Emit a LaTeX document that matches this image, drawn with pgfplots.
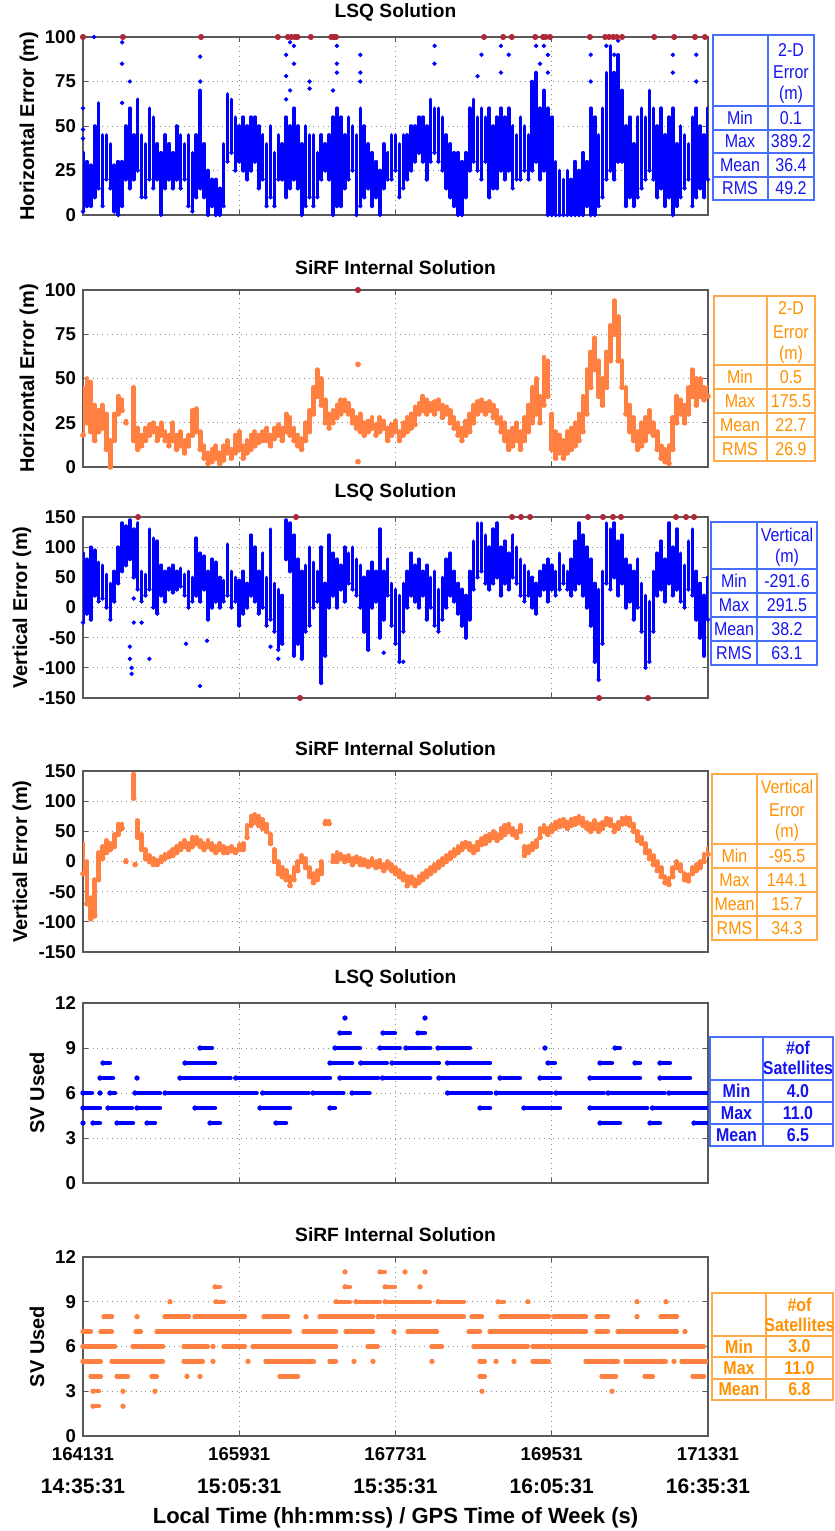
\documentclass[border=0pt]{standalone}
\usepackage{pgfplots}
\pgfplotsset{compat=1.18}
\usepackage{pgfplotstable}
\usepackage{graphicx}
\usepackage{fontspec}
\setmainfont{Liberation Sans}

\definecolor{lsq}{RGB}{0,0,255}
\definecolor{sirf}{RGB}{255,128,64}
\definecolor{clipped}{RGB}{175,40,55}
\definecolor{tbblue}{RGB}{70,110,255}
\definecolor{txblue}{RGB}{20,20,240}
\definecolor{tborange}{RGB}{255,170,70}
\definecolor{txorange}{RGB}{255,145,0}

% t = seconds since 164131 (14:35:31); lo/hi = spread of the dots at that time
\pgfplotstableread[row sep=\\]{
t lo hi\\
0 2 35\\ 45 5 30\\ 90 5 28\\ 135 10 50\\ 180 15 63\\ 225 5 45\\ 270 20 45\\ 315 15 40\\ 360 2 28\\ 405 0 30\\
450 5 30\\ 495 20 50\\ 540 15 60\\ 585 20 45\\ 630 25 65\\ 675 10 45\\ 720 10 40\\ 765 20 60\\ 810 15 55\\ 855 20 40\\
900 0 35\\ 945 15 45\\ 990 20 40\\ 1035 15 35\\ 1080 20 50\\ 1125 15 45\\ 1170 20 40\\ 1215 5 45\\ 1260 2 35\\ 1305 10 45\\
1350 15 70\\ 1395 10 40\\ 1440 0 25\\ 1485 5 20\\ 1530 0 20\\ 1575 0 15\\ 1620 5 40\\ 1665 30 68\\ 1710 35 65\\ 1755 25 55\\
1800 30 50\\ 1845 25 55\\ 1890 20 50\\ 1935 25 55\\ 1980 30 55\\ 2025 15 50\\ 2070 20 45\\ 2115 5 40\\ 2160 10 50\\ 2205 5 35\\
2250 20 45\\ 2295 20 40\\ 2340 10 55\\ 2385 15 50\\ 2430 20 60\\ 2475 15 50\\ 2520 0 40\\ 2565 5 50\\ 2610 10 45\\ 2655 5 45\\
2700 10 35\\ 2745 20 45\\ 2790 25 40\\ 2835 20 45\\ 2880 0 55\\ 2925 5 60\\ 2970 5 55\\ 3015 15 45\\ 3060 20 55\\ 3105 25 50\\
3150 0 45\\ 3195 5 60\\ 3240 10 50\\ 3285 15 40\\ 3330 5 35\\ 3375 10 30\\ 3420 0 25\\ 3465 15 40\\ 3510 20 35\\ 3555 20 45\\
3600 25 45\\ 3645 10 40\\ 3690 15 45\\ 3735 20 45\\ 3780 25 50\\ 3825 30 50\\ 3870 35 55\\ 3915 30 55\\ 3960 20 50\\ 4005 30 65\\
4050 35 60\\ 4095 30 60\\ 4140 25 55\\ 4185 15 45\\ 4230 10 40\\ 4275 5 35\\ 4320 0 35\\ 4365 0 30\\ 4410 10 35\\ 4455 25 60\\
4500 30 65\\ 4545 25 55\\ 4590 20 60\\ 4635 30 55\\ 4680 10 60\\ 4725 15 50\\ 4770 15 55\\ 4815 25 60\\ 4860 20 55\\ 4905 25 60\\
4950 15 50\\ 4995 20 45\\ 5040 20 55\\ 5085 25 50\\ 5130 20 45\\ 5175 25 75\\ 5220 30 80\\ 5265 20 60\\ 5310 25 70\\ 5355 0 60\\
5400 0 55\\ 5445 0 30\\ 5490 0 25\\ 5535 0 20\\ 5580 0 25\\ 5625 0 20\\ 5670 0 30\\ 5715 0 25\\ 5760 0 35\\ 5805 5 30\\
5850 0 60\\ 5895 0 55\\ 5940 5 45\\ 5985 10 60\\ 6030 20 80\\ 6075 25 95\\ 6120 20 80\\ 6165 30 90\\ 6210 30 70\\ 6255 5 50\\
6300 10 55\\ 6345 5 40\\ 6390 10 55\\ 6435 15 60\\ 6480 20 55\\ 6525 25 70\\ 6570 20 60\\ 6615 10 50\\ 6660 15 60\\ 6705 5 45\\
6750 10 55\\ 6795 0 60\\ 6840 5 40\\ 6885 10 50\\ 6930 15 45\\ 6975 20 40\\ 7020 5 55\\ 7065 10 60\\ 7110 15 50\\ 7155 10 45\\
7200 20 60\\
}\lsqhor

\pgfplotstableread[row sep=\\]{
t lo hi\\
0 18 45\\ 45 25 50\\ 90 20 48\\ 135 15 35\\ 180 20 32\\ 225 22 35\\ 270 10 30\\ 315 0 15\\ 360 15 30\\ 405 30 40\\
450 32 38\\ 495 25 26\\ 585 15 45\\ 630 10 22\\ 675 12 18\\ 720 15 22\\ 765 18 24\\ 810 20 25\\ 855 15 22\\ 900 18 25\\
945 15 20\\ 990 12 18\\ 1035 15 25\\ 1080 10 18\\ 1125 12 20\\ 1170 8 15\\ 1215 12 18\\ 1260 18 32\\ 1305 20 33\\ 1350 10 20\\
1395 5 12\\ 1440 2 8\\ 1485 3 10\\ 1530 5 12\\ 1575 2 8\\ 1620 4 12\\ 1665 8 15\\ 1710 5 10\\ 1755 8 18\\ 1800 10 20\\
1845 5 12\\ 1890 8 15\\ 1935 10 18\\ 1980 12 20\\ 2025 14 18\\ 2070 15 20\\ 2115 15 22\\ 2160 12 18\\ 2205 16 22\\ 2250 18 24\\
2295 15 22\\ 2340 20 30\\ 2385 18 28\\ 2430 15 22\\ 2475 12 18\\ 2520 10 16\\ 2565 15 25\\ 2610 20 32\\ 2655 30 45\\ 2700 40 55\\
2745 35 50\\ 2790 25 38\\ 2835 22 30\\ 2880 25 32\\ 2925 28 35\\ 2970 30 38\\ 3015 32 38\\ 3060 30 36\\ 3105 25 32\\ 3150 22 28\\
3195 20 30\\ 3240 18 25\\ 3285 20 26\\ 3330 22 28\\ 3375 18 24\\ 3420 20 28\\ 3465 22 26\\ 3510 15 22\\ 3555 18 24\\ 3600 20 26\\
3645 15 20\\ 3690 18 25\\ 3735 20 28\\ 3780 22 30\\ 3825 24 34\\ 3870 30 36\\ 3915 32 40\\ 3960 30 38\\ 4005 32 36\\ 4050 30 37\\
4095 33 38\\ 4140 28 35\\ 4185 30 34\\ 4230 25 32\\ 4275 22 28\\ 4320 18 25\\ 4365 15 22\\ 4410 18 26\\ 4455 20 30\\ 4500 25 35\\
4545 30 37\\ 4590 32 38\\ 4635 30 36\\ 4680 32 37\\ 4725 28 35\\ 4770 25 32\\ 4815 20 28\\ 4860 15 25\\ 4905 10 20\\ 4950 12 22\\
4995 15 25\\ 5040 10 20\\ 5085 15 28\\ 5130 20 35\\ 5175 25 45\\ 5220 30 50\\ 5265 25 40\\ 5310 35 62\\ 5355 40 60\\ 5400 10 30\\
5445 5 20\\ 5490 8 18\\ 5535 5 15\\ 5580 8 20\\ 5625 10 22\\ 5670 12 25\\ 5715 15 30\\ 5760 20 40\\ 5805 30 55\\ 5850 45 65\\
5895 55 73\\ 5940 40 60\\ 5985 35 50\\ 6030 45 65\\ 6075 60 80\\ 6120 75 94\\ 6165 60 85\\ 6210 45 60\\ 6255 30 45\\ 6300 20 35\\
6345 15 28\\ 6390 10 20\\ 6435 12 25\\ 6480 15 28\\ 6525 20 32\\ 6570 18 25\\ 6615 10 20\\ 6660 5 12\\ 6705 3 10\\ 6750 2 12\\
6795 10 28\\ 6840 25 40\\ 6885 30 38\\ 6930 25 35\\ 6975 30 45\\ 7020 40 55\\ 7065 35 50\\ 7110 40 50\\ 7155 38 45\\ 7200 40 45\\
}\sirfhor

\pgfplotstableread[row sep=\\]{
t lo hi\\
0 -25 90\\ 45 -10 80\\ 90 -20 100\\ 135 20 95\\ 180 10 75\\ 225 15 70\\ 270 0 55\\ 315 -20 40\\ 360 10 60\\ 405 40 100\\
450 60 140\\ 495 70 135\\ 540 80 145\\ 585 50 130\\ 630 30 140\\ 675 10 60\\ 720 20 55\\ 765 30 130\\ 810 0 115\\ 855 -10 110\\
900 20 70\\ 945 10 60\\ 990 30 65\\ 1035 25 70\\ 1080 30 60\\ 1125 35 65\\ 1170 20 55\\ 1215 0 60\\ 1260 10 50\\ 1305 20 115\\
1350 10 90\\ 1395 30 85\\ 1440 -20 60\\ 1485 0 80\\ 1530 10 75\\ 1575 0 50\\ 1620 10 45\\ 1665 20 105\\ 1710 0 60\\ 1755 10 50\\
1800 -30 45\\ 1845 -10 60\\ 1890 0 40\\ 1935 20 120\\ 1980 10 100\\ 2025 -10 60\\ 2070 0 90\\ 2115 -30 50\\ 2160 -20 130\\ 2205 -40 40\\
2250 -70 30\\ 2295 -60 20\\ 2340 80 145\\ 2385 60 140\\ 2430 -80 120\\ 2475 -60 80\\ 2520 -85 60\\ 2565 -40 70\\ 2610 -30 100\\ 2655 0 75\\
2700 10 60\\ 2745 -125 100\\ 2790 -80 40\\ 2835 0 120\\ 2880 20 90\\ 2925 0 80\\ 2970 30 70\\ 3015 10 100\\ 3060 40 90\\ 3105 30 100\\
3150 20 80\\ 3195 0 70\\ 3240 -40 50\\ 3285 -70 60\\ 3330 0 75\\ 3375 10 60\\ 3420 -50 130\\ 3465 -20 60\\ 3510 20 80\\ 3555 -30 40\\
3600 -60 30\\ 3645 -90 20\\ 3690 -40 40\\ 3735 0 60\\ 3780 20 90\\ 3825 10 70\\ 3870 0 80\\ 3915 20 60\\ 3960 -20 70\\ 4005 0 50\\
4050 -30 60\\ 4095 -40 30\\ 4140 -20 50\\ 4185 0 80\\ 4230 20 90\\ 4275 10 60\\ 4320 -10 40\\ 4365 -30 30\\ 4410 -50 20\\ 4455 -20 60\\
4500 30 110\\ 4545 50 140\\ 4590 60 140\\ 4635 40 120\\ 4680 30 100\\ 4725 40 130\\ 4770 50 140\\ 4815 20 100\\ 4860 40 110\\ 4905 30 90\\
4950 50 120\\ 4995 40 100\\ 5040 20 80\\ 5085 10 70\\ 5130 20 60\\ 5175 0 50\\ 5220 -10 40\\ 5265 20 60\\ 5310 30 70\\ 5355 10 80\\
5400 30 70\\ 5445 20 60\\ 5490 30 90\\ 5535 40 70\\ 5580 30 60\\ 5625 20 80\\ 5670 30 110\\ 5715 40 140\\ 5760 20 120\\ 5805 0 100\\
5850 -30 80\\ 5895 -90 40\\ 5940 -120 30\\ 5985 -60 60\\ 6030 40 140\\ 6075 30 130\\ 6120 50 140\\ 6165 20 110\\ 6210 40 120\\ 6255 0 80\\
6300 10 70\\ 6345 -20 60\\ 6390 0 80\\ 6435 -40 40\\ 6480 -100 20\\ 6525 -90 10\\ 6570 -40 60\\ 6615 20 90\\ 6660 30 110\\ 6705 10 80\\
6750 40 140\\ 6795 20 100\\ 6840 30 130\\ 6885 10 90\\ 6930 0 70\\ 6975 30 110\\ 7020 20 130\\ 7065 -20 60\\ 7110 -50 40\\ 7155 -80 20\\
7200 -20 50\\
}\lsqver

\pgfplotstableread[row sep=\\]{
t lo hi\\
0 -20 30\\ 45 -70 0\\ 90 -95 -60\\ 135 -90 -30\\ 180 -30 15\\ 225 5 25\\ 270 15 35\\ 315 20 30\\ 360 25 45\\ 405 45 62\\
450 55 62\\ 495 0 2\\ 585 105 145\\ 600 -5 -5\\ 630 40 68\\ 675 20 45\\ 720 5 20\\ 765 0 10\\ 810 -5 5\\ 855 -5 2\\ 900 0 8\\
945 5 12\\ 990 8 15\\ 1035 10 20\\ 1080 15 25\\ 1125 20 30\\ 1170 25 35\\ 1215 20 30\\ 1260 25 40\\ 1305 30 40\\ 1350 25 35\\
1395 20 30\\ 1440 25 35\\ 1485 20 30\\ 1530 15 25\\ 1575 20 30\\ 1620 15 25\\ 1665 15 22\\ 1710 18 25\\ 1755 15 20\\ 1800 20 28\\
1845 20 30\\ 1890 40 60\\ 1935 60 75\\ 1980 65 78\\ 2025 60 75\\ 2070 55 70\\ 2115 50 62\\ 2160 30 45\\ 2205 0 20\\ 2250 -20 0\\
2295 -25 -10\\ 2340 -30 -15\\ 2385 -40 -25\\ 2430 -30 -10\\ 2475 -15 0\\ 2520 0 10\\ 2565 -10 5\\ 2610 -25 -10\\ 2655 -35 -20\\ 2700 -30 -15\\
2745 -20 0\\ 2790 63 67\\ 2835 63 67\\ 2880 0 10\\ 2925 0 15\\ 2970 5 12\\ 3015 0 8\\ 3060 2 10\\ 3105 -5 5\\ 3150 0 8\\
3195 -5 5\\ 3240 -5 3\\ 3285 -8 0\\ 3330 -5 5\\ 3375 -10 0\\ 3420 -8 2\\ 3465 -15 -5\\ 3510 -10 0\\ 3555 -15 -5\\ 3600 -20 -10\\
3645 -25 -15\\ 3690 -30 -20\\ 3735 -40 -25\\ 3780 -35 -25\\ 3825 -40 -30\\ 3870 -35 -25\\ 3915 -30 -20\\ 3960 -25 -15\\ 4005 -20 -10\\ 4050 -15 -5\\
4095 -10 0\\ 4140 -5 5\\ 4185 0 10\\ 4230 5 15\\ 4275 10 20\\ 4320 15 25\\ 4365 20 30\\ 4410 25 32\\ 4455 20 30\\ 4500 15 25\\
4545 20 32\\ 4590 28 38\\ 4635 30 42\\ 4680 35 45\\ 4725 40 50\\ 4770 35 45\\ 4815 40 55\\ 4860 45 60\\ 4905 50 62\\ 4950 45 55\\
4995 40 50\\ 5040 50 60\\ 5085 10 25\\ 5130 15 25\\ 5175 20 30\\ 5220 25 35\\ 5265 40 55\\ 5310 50 60\\ 5355 45 55\\ 5400 50 60\\
5445 55 65\\ 5490 58 68\\ 5535 60 70\\ 5580 55 65\\ 5625 60 70\\ 5670 62 72\\ 5715 65 75\\ 5760 60 72\\ 5805 55 65\\ 5850 50 62\\
5895 55 68\\ 5940 50 62\\ 5985 55 65\\ 6030 62 72\\ 6075 60 70\\ 6120 50 60\\ 6165 55 65\\ 6210 62 72\\ 6255 63 73\\ 6300 60 72\\
6345 50 62\\ 6390 35 50\\ 6435 30 40\\ 6480 15 30\\ 6525 5 18\\ 6570 -5 10\\ 6615 -15 0\\ 6660 -25 -10\\ 6705 -35 -25\\ 6750 -38 -28\\
6795 -25 -10\\ 6840 -10 0\\ 6885 -15 -5\\ 6930 -30 -20\\ 6975 -32 -22\\ 7020 -20 -10\\ 7065 -15 -5\\ 7110 -10 0\\ 7155 0 12\\ 7200 12 22\\
}\sirfver

% satellites used: level, start and end of each run of dots
\pgfplotstableread[row sep=\\]{
lev a b\\
11 3018 3018\\ 11 3940 3940\\
10 2960 3076\\ 10 3456 3594\\ 10 3859 3940\\
9 1348 1486\\ 9 2903 3191\\ 9 3421 3650\\ 9 3720 4000\\ 9 4090 4458\\ 9 5322 5322\\ 9 6129 6186\\
8 230 311\\ 8 1175 1521\\ 8 2845 3100\\ 8 3200 3500\\ 8 3560 4100\\ 8 4200 4689\\ 8 5357 5437\\ 8 5956 6094\\ 8 6359 6417\\ 8 6647 6762\\
7 196 346\\ 7 622 622\\ 7 1117 1700\\ 7 1760 2845\\ 7 2960 3400\\ 7 3450 4000\\ 7 4100 4689\\ 7 4804 5034\\ 7 5265 5495\\ 7 5841 6417\\ 7 6647 6993\\
6 0 104\\ 6 196 196\\ 6 311 369\\ 6 599 887\\ 6 945 2000\\ 6 2070 2600\\ 6 2650 3000\\ 6 3100 3300\\ 6 4200 4700\\ 6 4760 5400\\ 6 5450 6000\\ 6 6050 6700\\ 6 6750 7200\\
5 0 196\\ 5 288 564\\ 5 622 887\\ 5 1290 1521\\ 5 2039 2385\\ 5 2845 2903\\ 5 4573 4689\\ 5 5080 5495\\ 5 5841 6500\\ 5 6560 7200\\
4 0 0\\ 4 115 196\\ 4 392 576\\ 4 738 829\\ 4 1463 1578\\ 4 2223 2339\\ 4 5956 6186\\ 4 6532 6647\\ 4 7039 7200\\
}\lsqsv

\pgfplotstableread[row sep=\\]{
lev a b\\
11 3018 3018\\ 11 3421 3479\\ 11 3709 3709\\ 11 3940 3940\\
10 1521 1578\\ 10 3018 3076\\ 10 3479 3594\\ 10 3882 3882\\
9 1002 1002\\ 9 1532 1624\\ 9 2915 3076\\ 9 3145 3421\\ 9 3479 3997\\ 9 4090 4389\\ 9 4781 4850\\ 9 5126 5126\\ 9 6382 6382\\ 9 6716 6716\\
8 242 334\\ 8 622 622\\ 8 945 1221\\ 8 1290 1866\\ 8 2085 2362\\ 8 2569 2569\\ 8 2730 3341\\ 8 3400 4389\\ 8 4481 4596\\ 8 4815 5368\\ 8 5426 5795\\ 8 5921 6048\\ 8 6382 6382\\ 8 6659 6843\\
7 0 92\\ 7 207 334\\ 7 611 668\\ 7 852 1382\\ 7 1405 2385\\ 7 2546 2915\\ 7 3030 3341\\ 7 3583 3583\\ 7 3744 4078\\ 7 4447 4573\\ 7 4689 5795\\ 7 5921 6048\\ 7 6163 6843\\ 7 6935 6935\\
6 0 369\\ 6 576 922\\ 6 1164 1440\\ 6 1498 1498\\ 6 1624 1866\\ 6 1958 2915\\ 6 3283 3398\\ 6 4020 4136\\ 6 4504 5126\\ 6 5184 7154\\
5 0 207\\ 5 334 922\\ 5 1164 1382\\ 5 1498 1498\\ 5 1901 1901\\ 5 2108 2661\\ 5 2845 2915\\ 5 3122 3122\\ 5 3341 3341\\ 5 4020 4020\\ 5 4573 4631\\ 5 4758 4758\\ 5 4965 4965\\ 5 5184 5368\\ 5 5795 6163\\ 5 6255 6716\\ 5 6808 6808\\ 5 6900 7200\\
4 92 207\\ 4 392 518\\ 4 795 852\\ 4 1198 1198\\ 4 1348 1348\\ 4 2269 2477\\ 4 4573 4631\\ 4 5979 6140\\ 4 6474 6566\\ 4 7027 7154\\
3 115 184\\ 3 461 461\\ 3 829 829\\ 3 4596 4596\\ 3 6094 6094\\
2 115 184\\ 2 461 461\\
}\sirfsv

\newcommand\cn[1]{\scalebox{0.86}[1]{#1}}

\pgfplotsset{
  panel/.style={
    scale only axis, width=312.5pt, xmin=0, xmax=7200, anchor=south west,
    xtick={0,1800,3600,5400,7200}, xticklabels={},
    axis line style={black!65, line width=0.7pt},
    grid=major, grid style={dotted, black!45, line width=0.5pt},
    major tick style={black!65, line width=0.5pt}, major tick length=2.5pt,
    tick label style={font=\fontsize{9.3}{11}\selectfont\bfseries},
    /pgf/number format/assume math mode=true,
    every axis title/.style={font=\fontsize{9.6}{11}\selectfont\bfseries, at={(0.5,1)}, anchor=south, yshift=4.3pt},
    ylabel style={font=\fontsize{10}{12}\selectfont\bfseries, anchor=center},
  },
  streak/.style n args={3}{only marks, mark=*, mark size=#3, color=#1,
    error bars/.cd, y dir=plus, y explicit, error mark=none,
    error bar style={line width=#2, line cap=round, color=#1}},
  run/.style={only marks, mark=*, mark size=1.1pt, color=#1,
    error bars/.cd, x dir=plus, x explicit, error mark=none,
    error bar style={line width=2.2pt, line cap=round, color=#1}},
  outlier/.style={only marks, mark=*, mark size=1.3pt, color=clipped},
}

\begin{document}
\begin{tikzpicture}
\path[use as bounding box] (0,0) rectangle (417.5pt,-765.5pt);

% ---- LSQ horizontal
\begin{axis}[panel, at={(41.5pt,-107.5pt)}, height=89pt,
  ymin=0, ymax=100, ytick={0,25,50,75,100},
  title={LSQ Solution}, ylabel={Horizontal Error (m)},
  ylabel style={at={([xshift=-27pt]axis description cs:0,0.5)}}]
\addplot[streak={lsq}{1.8pt}{0.9pt}] table[x=t, y=lo, y error plus expr=\thisrow{hi}-\thisrow{lo}] {\lsqhor};
\addplot[only marks, mark=*, mark size=0.9pt, lsq] coordinates {
 (0,60) (0,48) (0,43) (127,100) (450,97) (450,85) (450,63) (540,75) (1350,89) (1350,75)
 (2340,65) (2340,78) (2340,90) (2385,97) (2385,70) (2430,95) (2430,85) (2610,75) (2610,71)
 (2880,70) (2925,80) (2925,85) (2925,95) (3195,90) (3195,80) (3195,75) (4050,95) (4050,85)
 (4545,78) (4590,90) (4815,95) (4815,80) (4905,90) (5220,95) (5265,85) (5310,95) (5355,80)
 (5355,90) (5850,75) (5850,90) (6030,95) (6120,90) (6165,98) (6795,80) (6795,90) (7065,90) (7065,75)};
\addplot[outlier] coordinates {
 (0,100) (460,100) (1360,100) (2245,100) (2360,100) (2400,100) (2440,100) (2470,100) (2625,100)
 (2860,100) (2890,100) (2915,100) (4620,100) (4840,100) (4940,100) (5210,100) (5300,100) (5330,100)
 (5380,100) (5840,100) (6015,100) (6060,100) (6110,100) (6150,100) (6210,100) (6580,100) (6810,100)
 (7050,100) (7165,100)};
\end{axis}

% ---- SiRF horizontal
\begin{axis}[panel, at={(41.5pt,-233.5pt)}, height=88.5pt,
  ymin=0, ymax=100, ytick={0,25,50,75,100},
  title={SiRF Internal Solution}, ylabel={Horizontal Error (m)},
  ylabel style={at={([xshift=-27pt]axis description cs:0,0.5)}}]
\addplot[streak={sirf}{2.4pt}{1.2pt}] table[x=t, y=lo, y error plus expr=\thisrow{hi}-\thisrow{lo}] {\sirfhor};
\addplot[only marks, mark=*, mark size=1.2pt, sirf] coordinates {(3168,58) (3168,3)};
\addplot[outlier] coordinates {(3168,100)};
\end{axis}

% ---- LSQ vertical
\begin{axis}[panel, at={(41.5pt,-349pt)}, height=90.5pt,
  ymin=-150, ymax=150, ytick={-150,-100,...,150},
  title={LSQ Solution}, ylabel={Vertical Error (m)},
  ylabel style={at={([xshift=-30.5pt]axis description cs:0,0.5)}}]
\addplot[streak={lsq}{1.8pt}{0.9pt}] table[x=t, y=lo, y error plus expr=\thisrow{hi}-\thisrow{lo}] {\lsqver};
\addplot[only marks, mark=*, mark size=0.9pt, lsq] coordinates {
 (540,-65) (540,-85) (560,-100) (560,-110) (585,15) (585,-25) (675,-25) (765,-85) (1187,-60)
 (1348,-130) (1428,-55) (2160,-65) (2250,-85) (3465,-75) (3690,-90)};
\addplot[outlier] coordinates {
 (634,150) (2454,150) (4942,150) (5046,150) (5150,150) (5818,150) (5990,150) (6106,150) (6198,150)
 (6831,150) (6947,150) (7039,150) (2500,-150) (5945,-150) (6509,-150)};
\end{axis}

% ---- SiRF vertical
\begin{axis}[panel, at={(41.5pt,-476pt)}, height=90.5pt,
  ymin=-150, ymax=150, ytick={-150,-100,...,150},
  title={SiRF Internal Solution}, ylabel={Vertical Error (m)},
  ylabel style={at={([xshift=-30.5pt]axis description cs:0,0.5)}}]
\addplot[streak={sirf}{2.4pt}{1.2pt}] table[x=t, y=lo, y error plus expr=\thisrow{hi}-\thisrow{lo}] {\sirfver};
\end{axis}

% ---- LSQ satellites
\begin{axis}[panel, at={(41.5pt,-591.5pt)}, height=90pt,
  ymin=0, ymax=12, ytick={0,3,...,12},
  title={LSQ Solution}, ylabel={SV Used},
  ylabel style={at={([xshift=-23pt]axis description cs:0,0.5)}}]
\addplot[run=lsq] table[x=a, y=lev, x error plus expr=\thisrow{b}-\thisrow{a}] {\lsqsv};
\end{axis}

% ---- SiRF satellites
\begin{axis}[panel, at={(41.5pt,-718pt)}, height=89.5pt,
  ymin=0, ymax=12, ytick={0,3,...,12},
  title={SiRF Internal Solution}, ylabel={SV Used},
  ylabel style={at={([xshift=-23pt]axis description cs:0,0.5)}},
  xticklabels={{164131\\[5.5pt]\fontsize{10.5}{12}\selectfont 14:35:31},
               {165931\\[5.5pt]\fontsize{10.5}{12}\selectfont 15:05:31},
               {167731\\[5.5pt]\fontsize{10.5}{12}\selectfont 15:35:31},
               {169531\\[5.5pt]\fontsize{10.5}{12}\selectfont 16:05:31},
               {171331\\[5.5pt]\fontsize{10.5}{12}\selectfont 16:35:31}},
  x tick label style={align=center, yshift=-2pt},
  xlabel={Local Time (hh:mm:ss) / GPS Time of Week (s)},
  xlabel style={font=\fontsize{11}{13}\selectfont\bfseries, at={([yshift=-41pt]axis description cs:0.5,0)}, anchor=center}]
\addplot[run=sirf] table[x=a, y=lev, x error plus expr=\thisrow{b}-\thisrow{a}] {\sirfsv};
\end{axis}

% ---- statistics boxes (pixel grid of the original figure)
\begin{scope}[x=0.5pt, y=-0.5pt, every node/.style={inner sep=0pt, font=\fontsize{9.3}{11}\selectfont}]
\begin{scope}[tbblue, line width=0.9pt]
 \draw (713,35) rectangle (814,200) (768,35) -- (768,200)
   (713,106) -- (814,106) (713,130) -- (814,130) (713,153) -- (814,153) (713,177) -- (814,177);
\end{scope}
\begin{scope}[txblue]
 \node at (791,50) {\cn{2-D}}; \node at (791,72) {\cn{Error}}; \node at (791,95) {\cn{(m)}};
 \node at (740,118) {\cn{Min}}; \node at (791,118) {\cn{0.1}};
 \node at (740,141.5) {\cn{Max}}; \node at (791,141.5) {\cn{389.2}};
 \node at (740,165) {\cn{Mean}}; \node at (791,165) {\cn{36.4}};
 \node at (740,188.5) {\cn{RMS}}; \node at (791,188.5) {\cn{49.2}};
\end{scope}

\begin{scope}[tborange, line width=0.9pt]
 \draw (714,296) rectangle (815,461) (767,296) -- (767,461)
   (714,365) -- (815,365) (714,389) -- (815,389) (714,413) -- (815,413) (714,437) -- (815,437);
\end{scope}
\begin{scope}[txorange]
 \node at (791,308) {\cn{2-D}}; \node at (791,332) {\cn{Error}}; \node at (791,355) {\cn{(m)}};
 \node at (740,377) {\cn{Min}}; \node at (791,377) {\cn{0.5}};
 \node at (740,401) {\cn{Max}}; \node at (791,401) {\cn{175.5}};
 \node at (740,425) {\cn{Mean}}; \node at (791,425) {\cn{22.7}};
 \node at (740,449) {\cn{RMS}}; \node at (791,449) {\cn{26.9}};
\end{scope}

\begin{scope}[tbblue, line width=0.9pt]
 \draw (711,522) rectangle (817,665) (757,522) -- (757,665)
   (711,569) -- (817,569) (711,593) -- (817,593) (711,617) -- (817,617) (711,641) -- (817,641);
\end{scope}
\begin{scope}[txblue]
 \node at (787,535) {\cn{Vertical}}; \node at (787,558) {\cn{(m)}};
 \node at (734,581) {\cn{Min}}; \node at (787,581) {\cn{-291.6}};
 \node at (734,605) {\cn{Max}}; \node at (787,605) {\cn{291.5}};
 \node at (734,629) {\cn{Mean}}; \node at (787,629) {\cn{38.2}};
 \node at (734,653) {\cn{RMS}}; \node at (787,653) {\cn{63.1}};
\end{scope}

\begin{scope}[tborange, line width=0.9pt]
 \draw (712,774) rectangle (817,940) (757,774) -- (757,940)
   (712,844) -- (817,844) (712,868) -- (817,868) (712,892) -- (817,892) (712,916) -- (817,916);
\end{scope}
\begin{scope}[txorange]
 \node at (787,787) {\cn{Vertical}}; \node at (787,810) {\cn{Error}}; \node at (787,833) {\cn{(m)}};
 \node at (734.5,856) {\cn{Min}}; \node at (787,856) {\cn{-95.5}};
 \node at (734.5,880) {\cn{Max}}; \node at (787,880) {\cn{144.1}};
 \node at (734.5,904) {\cn{Mean}}; \node at (787,904) {\cn{15.7}};
 \node at (734.5,928) {\cn{RMS}}; \node at (787,928) {\cn{34.3}};
\end{scope}

\begin{scope}[tbblue, line width=0.9pt]
 \draw (710,1037) rectangle (833,1146) (763,1037) -- (763,1146)
   (710,1080) -- (833,1080) (710,1102) -- (833,1102) (710,1124) -- (833,1124);
\end{scope}
\begin{scope}[txblue, every node/.append style={font=\fontsize{9.3}{11}\selectfont\bfseries}]
 \node at (798,1048) {\cn{\#of}}; \node at (798,1068) {\cn{Satellites}};
 \node at (736.5,1091) {\cn{Min}}; \node at (798,1091) {\cn{4.0}};
 \node at (736.5,1113) {\cn{Max}}; \node at (798,1113) {\cn{11.0}};
 \node at (736.5,1135) {\cn{Mean}}; \node at (798,1135) {\cn{6.5}};
\end{scope}

\begin{scope}[tborange, line width=0.9pt]
 \draw (712,1293) rectangle (833,1400) (766,1293) -- (766,1400)
   (712,1336) -- (833,1336) (712,1357) -- (833,1357) (712,1379) -- (833,1379);
\end{scope}
\begin{scope}[txorange, every node/.append style={font=\fontsize{9.3}{11}\selectfont\bfseries}]
 \node at (799.5,1305) {\cn{\#of}}; \node at (799.5,1325) {\cn{Satellites}};
 \node at (739,1346.5) {\cn{Min}}; \node at (799.5,1346.5) {\cn{3.0}};
 \node at (739,1368) {\cn{Max}}; \node at (799.5,1368) {\cn{11.0}};
 \node at (739,1389.5) {\cn{Mean}}; \node at (799.5,1389.5) {\cn{6.8}};
\end{scope}
\end{scope}
\end{tikzpicture}
\end{document}
